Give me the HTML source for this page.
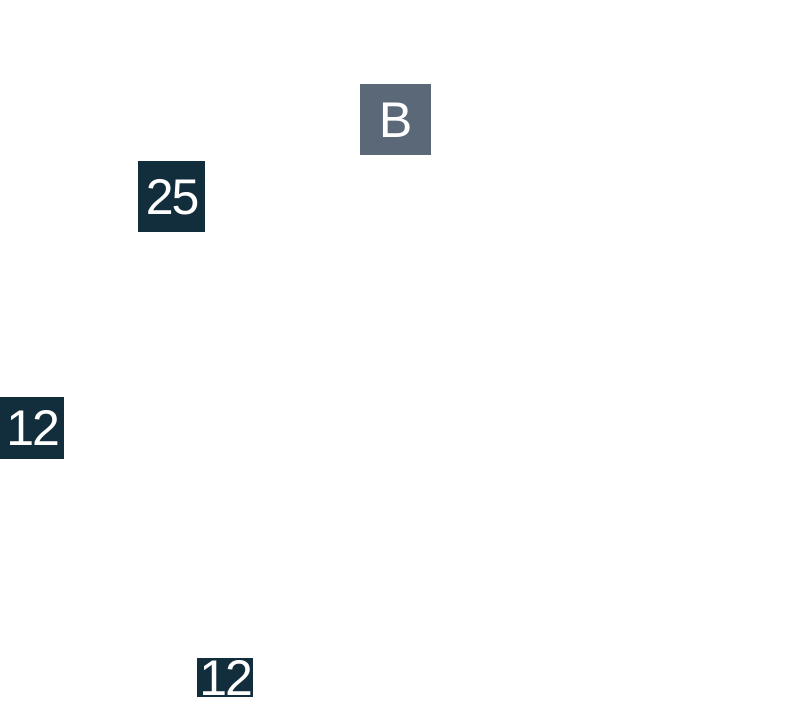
<!DOCTYPE html>
<html><head><style>
body{margin:0;width:792px;height:711px;background:#fff;position:relative;overflow:hidden;font-family:"Liberation Sans",sans-serif;}
.b{position:absolute;color:#fff;display:flex;align-items:center;justify-content:center;font-weight:300;overflow:hidden;}
</style></head><body>
<div class="b" style="left:360px;top:84px;width:71px;height:71px;background:#5a6878;font-size:50px;">B</div>
<div class="b" style="left:138px;top:161px;width:67px;height:71px;background:#122d3b;font-size:50px;letter-spacing:-2px;">25</div>
<div class="b" style="left:0px;top:397px;width:64px;height:62px;background:#122d3b;font-size:50px;letter-spacing:-2px;">12</div>
<div class="b" style="left:197px;top:658px;width:56px;height:39px;background:#122d3b;font-size:50px;letter-spacing:-2px;">12</div>
</body></html>
